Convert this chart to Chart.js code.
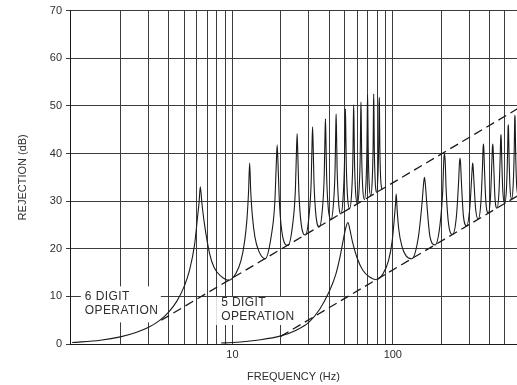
<!DOCTYPE html>
<html>
<head>
<meta charset="utf-8">
<script src="https://cdn.jsdelivr.net/npm/chart.js@4.4.1/dist/chart.umd.min.js"></script>
<style>
    html, body { margin: 0; padding: 0; background: #fff; }
</style>
</head>
<body>
<canvas id="rejectionChart" width="517" height="385"></canvas>
<script>
// axis ticks
let xTicks = [2, 3, 4, 5, 6, 7, 8, 9, 10, 20, 30, 40, 50, 60, 70, 80, 90, 100, 200, 300, 400, 500];
let xLabels = [10, 100];
let yTicks = [0, 10, 20, 30, 40, 50, 60, 70];

// 6 digit operation curve (Hz, dB)
let sixFreq = [
    1.0, 1.5, 2.0, 2.5, 3.0, 3.5, 4.0, 4.5, 5.0, 5.4, 5.8, 6.05, 6.2, 6.3, 6.45, 6.7, 7.2, 7.7, 8.5, 9.5,
    10.5, 11.3, 11.9, 12.3, 12.6, 12.8, 13.0, 13.3, 13.8, 14.6, 16.0,
    17.42, 18.37, 18.75, 19.0, 19.25, 19.63, 20.58, 22.2,
    23.72, 24.67, 25.05, 25.3, 25.55, 25.93, 26.88, 28.5,
    30.02, 30.97, 31.35, 31.6, 31.85, 32.23, 33.18, 34.8,
    36.42, 37.37, 37.75, 38.0, 38.25, 38.63, 39.58, 41.1,
    42.72, 43.67, 44.05, 44.3, 44.55, 44.93, 45.88, 47.5,
    49.02, 49.97, 50.35, 50.6, 50.85, 51.23, 52.18, 53.8,
    55.42, 56.37, 56.75, 57.0, 57.25, 57.63, 58.58, 60.1,
    61.72, 62.67, 63.05, 63.3, 63.55, 63.93, 64.88, 66.5,
    68.02, 68.97, 69.35, 69.6, 69.85, 70.23, 71.18, 72.8,
    74.42, 75.37, 75.75, 76.0, 76.25, 76.63, 77.58, 79.1,
    80.72, 81.67, 82.05, 82.3, 82.55, 82.93, 83.88, 85.5
];
let sixDb = [
    0.3, 0.8, 1.5, 2.4, 3.5, 4.9, 6.7, 9.0, 12.1, 15.5, 20.8, 26.5, 30.0, 33.0, 29.5, 25.0, 19.0, 16.0, 14.2, 13.4,
    14.8, 17.5, 21.5, 26.0, 32.0, 38.0, 32.0, 27.0, 22.5, 19.5, 17.9,
    22.5, 29.7, 37.5, 41.8, 37.5, 29.7, 22.5, 20.7,
    25.0, 32.2, 40.0, 44.2, 40.0, 32.2, 25.0, 22.9,
    26.9, 34.1, 41.9, 45.6, 41.9, 34.1, 26.9, 24.6,
    28.5, 35.7, 43.5, 47.3, 43.5, 35.7, 28.5, 26.1,
    29.8, 37.0, 44.8, 48.3, 44.8, 37.0, 29.8, 27.3,
    31.0, 38.2, 46.0, 49.4, 46.0, 38.2, 31.0, 28.4,
    32.0, 39.2, 47.0, 50.2, 47.0, 39.2, 32.0, 29.4,
    32.9, 40.1, 47.9, 50.8, 47.9, 40.1, 32.9, 30.3,
    33.8, 41.0, 48.8, 52.3, 48.8, 41.0, 33.8, 31.1,
    34.5, 41.7, 49.5, 52.5, 49.5, 41.7, 34.5, 31.8,
    35.2, 42.4, 50.2, 51.8, 50.2, 42.4, 35.2, 32.4
];

// 5 digit operation curve (Hz, dB)
let fiveFreq = [
    8.5, 10, 15, 20, 25, 30, 35, 40, 44, 47, 49.5, 51, 52.5, 54, 56, 60, 65, 72, 78.75,
    87, 94, 99, 102, 104, 105, 106.5, 109, 114, 121, 131.25,
    144.4, 152.25, 155.4, 157.5, 159.6, 162.75, 170.6, 183.75,
    196.9, 204.75, 207.9, 210, 212.1, 215.25, 223.1, 236.25,
    249.4, 257.25, 260.4, 262.5, 264.6, 267.75, 275.6, 288.75,
    301.9, 309.75, 312.9, 315, 317.1, 320.25, 328.1, 341.25,
    354.4, 362.25, 365.4, 367.5, 369.6, 372.75, 380.6, 393.75,
    406.9, 414.75, 417.9, 420, 422.1, 425.25, 433.1, 446.25,
    459.4, 467.25, 470.4, 472.5, 474.6, 477.75, 485.6, 498.75,
    511.9, 519.75, 522.9, 525, 527.1, 530.25, 538.1, 551,
    564, 572, 575.4, 577.5, 579.6, 583, 591, 600
];
let fiveDb = [
    0.2, 0.3, 0.9, 1.7, 2.9, 4.6, 7.3, 10.9, 14.5, 18.5, 22.5, 24.5, 25.5, 24.0, 21.5, 18.0, 15.5, 14.0, 13.5,
    14.8, 17.5, 21.5, 26.0, 29.5, 31.5, 28.0, 24.0, 20.5, 18.5, 17.9,
    22.5, 29.7, 33.5, 35.0, 33.5, 29.7, 22.5, 20.8,
    25.0, 32.2, 38.5, 40.0, 38.5, 32.2, 25.0, 23.0,
    26.9, 34.1, 38.0, 39.0, 38.0, 34.1, 26.9, 24.8,
    28.5, 34.5, 37.0, 38.0, 37.0, 34.5, 28.5, 26.2,
    29.8, 37.0, 41.0, 42.0, 41.0, 37.0, 29.8, 27.5,
    31.0, 38.2, 41.2, 42.0, 41.2, 38.2, 31.0, 28.5,
    32.0, 39.2, 43.0, 44.0, 43.0, 39.2, 32.0, 29.5,
    32.9, 40.1, 45.0, 46.0, 45.0, 40.1, 32.9, 30.4,
    33.8, 41.0, 47.0, 48.0, 47.0, 41.0, 33.8, 31.5
];

// dashed envelopes
let sixEnvFreq = [3.6, 600];
let sixEnvDb = [5.0, 49.4];
let fiveEnvFreq = [20, 600];
let fiveEnvDb = [1.6, 31.1];

let toPoints = (xs, ys) => xs.map((v, i) => ({ x: v, y: ys[i] }));

let inkColor = '#1a1a1a';
let gridColor = '#3c3c3c';
let textColor = '#2e2e2e';

Chart.defaults.font.family = '"Liberation Sans", Arial, sans-serif';
Chart.defaults.plugins.legend.display = false;
Chart.defaults.plugins.tooltip.enabled = false;

// white label boxes that blank the grid, like the printed notes
let notes = [
    { text: ['6 DIGIT', 'OPERATION'], f: 1.2, db: 10, box: [-4, -10, 80, 36] },
    { text: ['5 DIGIT', 'OPERATION'], f: 8.5, db: 8.6, box: [-5, -6, 82, 28] }
];
const noteBoxes = {
    id: 'noteBoxes',
    beforeDatasetsDraw(chart) {
        const { ctx, scales: { x, y } } = chart;
        notes.forEach(n => {
            const px = x.getPixelForValue(n.f);
            const py = y.getPixelForValue(n.db);
            ctx.save();
            ctx.fillStyle = '#fff';
            ctx.fillRect(px + n.box[0], py + n.box[1], n.box[2], n.box[3]);
            ctx.fillStyle = textColor;
            ctx.font = '12px "Liberation Sans", Arial, sans-serif';
            ctx.letterSpacing = '0.4px';
            ctx.textBaseline = 'middle';
            n.text.forEach((t, i) => ctx.fillText(t, px, py + i * 14));
            ctx.restore();
        });
    }
};

const ctx = document.getElementById('rejectionChart');
const rejectionChart = new Chart(ctx, {
    type: 'scatter',
    data: {
        datasets: [{
            label: '6 digit',
            data: toPoints(sixFreq, sixDb),
            showLine: true,
            borderColor: inkColor,
            borderWidth: 1.1,
            pointRadius: 0,
            cubicInterpolationMode: 'monotone'
        }, {
            label: '5 digit',
            data: toPoints(fiveFreq, fiveDb),
            showLine: true,
            borderColor: inkColor,
            borderWidth: 1.1,
            pointRadius: 0,
            cubicInterpolationMode: 'monotone'
        }, {
            label: '6 digit envelope',
            data: toPoints(sixEnvFreq, sixEnvDb),
            showLine: true,
            borderColor: inkColor,
            borderWidth: 1.3,
            borderDash: [9, 5],
            pointRadius: 0
        }, {
            label: '5 digit envelope',
            data: toPoints(fiveEnvFreq, fiveEnvDb),
            showLine: true,
            borderColor: inkColor,
            borderWidth: 1.3,
            borderDash: [9, 5],
            pointRadius: 0
        }]
    },
    options: {
        responsive: false,
        animation: false,
        layout: { padding: { top: 8, right: 0, bottom: 0, left: 0 } },
        scales: {
            x: {
                type: 'logarithmic',
                min: 0.97,
                max: 595,
                afterBuildTicks: (scale) => { scale.ticks = xTicks.map(v => ({ value: v })); },
                afterFit: (scale) => { scale.height = 41; },
                border: { color: inkColor, width: 1 },
                grid: { color: gridColor, lineWidth: 1, drawTicks: false },
                ticks: {
                    autoSkip: false,
                    maxRotation: 0,
                    padding: 4,
                    color: textColor,
                    font: { size: 11 },
                    callback: (value) => xLabels.includes(value) ? String(value) : ''
                },
                title: {
                    display: true,
                    text: 'FREQUENCY (Hz)',
                    color: textColor,
                    font: { size: 11 },
                    padding: { top: 0, bottom: 1 }
                }
            },
            y: {
                min: 0,
                max: 70,
                afterBuildTicks: (scale) => { scale.ticks = yTicks.map(v => ({ value: v })); },
                afterFit: (scale) => { scale.width = 70; },
                border: { color: inkColor, width: 1 },
                grid: { color: gridColor, lineWidth: 1, drawTicks: true, tickLength: 4 },
                ticks: { padding: 4, color: textColor, font: { size: 11 } },
                title: {
                    display: true,
                    text: 'REJECTION (dB)',
                    color: textColor,
                    font: { size: 11 },
                    padding: { top: 16, bottom: 0 }
                }
            }
        }
    },
    plugins: [noteBoxes]
});
</script>
</body>
</html>
